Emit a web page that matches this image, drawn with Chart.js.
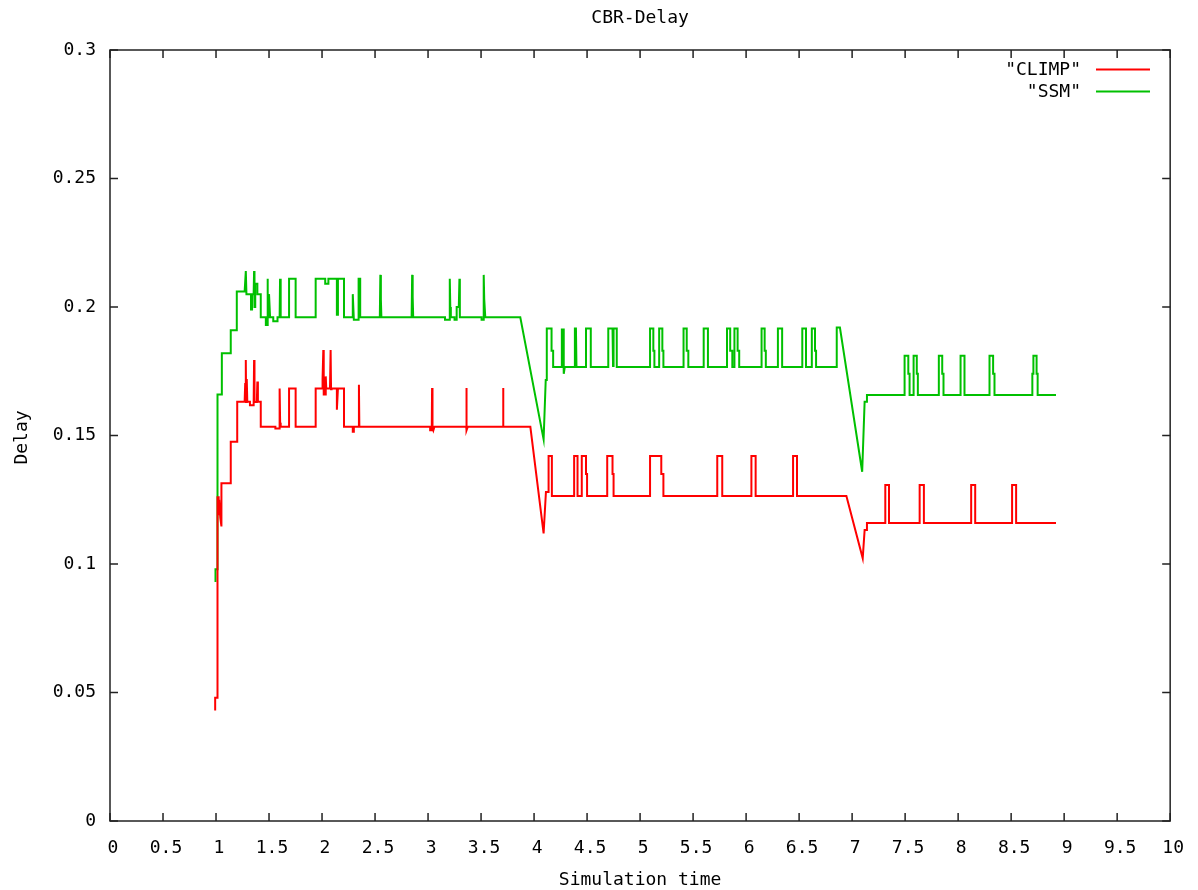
<!DOCTYPE html>
<html>
<head>
<meta charset="utf-8">
<title>CBR-Delay</title>
<script src="https://cdn.jsdelivr.net/npm/chart.js@4"></script>
<style>
  html, body { margin: 0; padding: 0; background: #fff; }
  canvas { display: block; }
</style>
</head>
<body>
<canvas id="delayChart" width="1198" height="890"></canvas>
<script>
// ------------------------------------
// data
// ------------------------------------
const chartTitle = "CBR-Delay";
const xTitle = "Simulation time";
const yTitle = "Delay";
const seriesNames = ['"CLIMP"', '"SSM"'];
const seriesColors = ["#ff0000", "#00c000"];

const xTicks = [0, 0.5, 1, 1.5, 2, 2.5, 3, 3.5, 4, 4.5, 5, 5.5, 6, 6.5, 7, 7.5, 8, 8.5, 9, 9.5, 10];
const yTicks = [0, 0.05, 0.1, 0.15, 0.2, 0.25, 0.3];

// CLIMP
const climpTime = [
  0.992, 0.992, 1.014, 1.014, 1.025, 1.025, 1.03, 1.04, 1.05, 1.051, 1.139, 1.139, 1.2, 1.2,
  1.27, 1.275, 1.281, 1.284, 1.29, 1.295, 1.32, 1.32, 1.355, 1.359, 1.363, 1.385, 1.39, 1.395, 1.422, 1.422,
  1.56, 1.56, 1.595, 1.6, 1.605, 1.61,
  1.689, 1.689, 1.751, 1.751,
  1.94, 1.94, 2.0, 2.005, 2.012, 2.016, 2.03, 2.035, 2.04, 2.075, 2.081, 2.085, 2.09,
  2.14, 2.14, 2.15, 2.207, 2.207, 2.29, 2.29, 2.3, 2.3, 2.34, 2.348, 2.352,
  3.02, 3.02, 3.035, 3.038, 3.042, 3.05, 3.06,
  3.36, 3.36, 3.362, 3.367, 3.375,
  3.707, 3.707, 3.712,
  3.965, 4.09, 4.112, 4.132, 4.137, 4.168, 4.168,
  4.378, 4.378, 4.41, 4.41, 4.45, 4.45, 4.49, 4.49, 4.5, 4.5,
  4.69, 4.69, 4.74, 4.74, 4.75, 4.75,
  5.094, 5.094, 5.2, 5.2, 5.22, 5.22,
  5.728, 5.728, 5.775, 5.775,
  6.05, 6.05, 6.09, 6.09,
  6.443, 6.443, 6.48, 6.48,
  6.946, 7.1, 7.118, 7.14, 7.14,
  7.313, 7.313, 7.348, 7.348,
  7.637, 7.637, 7.677, 7.677,
  8.123, 8.123, 8.161, 8.161,
  8.509, 8.509, 8.547, 8.547,
  8.923,
];
const climpDelay = [
  0.043, 0.048, 0.048, 0.126, 0.126, 0.119, 0.125, 0.118, 0.115, 0.1314, 0.1314, 0.1476, 0.1476, 0.1631,
  0.1631, 0.17, 0.1794, 0.163, 0.172, 0.1631, 0.1631, 0.1618, 0.1618, 0.1794, 0.163, 0.163, 0.171, 0.1631, 0.1631, 0.1534,
  0.1534, 0.1527, 0.1527, 0.1683, 0.155, 0.1534,
  0.1534, 0.1683, 0.1683, 0.1534,
  0.1534, 0.1683, 0.1683, 0.172, 0.1833, 0.166, 0.166, 0.173, 0.1683, 0.1683, 0.1833, 0.168, 0.1683,
  0.1683, 0.16, 0.1683, 0.1683, 0.1534, 0.1534, 0.1515, 0.1515, 0.1534, 0.1534, 0.1697, 0.1534,
  0.1534, 0.152, 0.152, 0.1685, 0.153, 0.152, 0.1534,
  0.1534, 0.152, 0.1685, 0.152, 0.1534,
  0.1534, 0.1685, 0.1534,
  0.1534, 0.1119, 0.128, 0.128, 0.142, 0.142, 0.1265,
  0.1265, 0.142, 0.142, 0.1265, 0.1265, 0.142, 0.142, 0.135, 0.135, 0.1265,
  0.1265, 0.142, 0.142, 0.135, 0.135, 0.1265,
  0.1265, 0.142, 0.142, 0.135, 0.135, 0.1265,
  0.1265, 0.142, 0.142, 0.1265,
  0.1265, 0.142, 0.142, 0.1265,
  0.1265, 0.142, 0.142, 0.1265,
  0.1265, 0.1022, 0.1132, 0.1132, 0.116,
  0.116, 0.1307, 0.1307, 0.116,
  0.116, 0.1307, 0.1307, 0.116,
  0.116, 0.1307, 0.1307, 0.116,
  0.116, 0.1307, 0.1307, 0.116,
  0.116,
];

// SSM
const ssmTime = [
  0.995, 0.995, 1.014, 1.014, 1.055, 1.055, 1.139, 1.139, 1.196, 1.196,
  1.27, 1.281, 1.287, 1.33, 1.33, 1.34, 1.34, 1.355, 1.359, 1.363, 1.37, 1.37, 1.39, 1.39, 1.422, 1.422,
  1.47, 1.47, 1.485, 1.485, 1.49, 1.5, 1.5, 1.51,
  1.54, 1.54, 1.58, 1.58, 1.6, 1.604, 1.61,
  1.689, 1.689, 1.751, 1.751,
  1.94, 1.94, 2.03, 2.03, 2.06, 2.06, 2.14, 2.14, 2.15, 2.15, 2.207, 2.207,
  2.29, 2.29, 2.3, 2.345, 2.345, 2.36, 2.36,
  2.545, 2.55, 2.555, 2.56,
  2.845, 2.85, 2.855, 2.86,
  3.16, 3.16, 3.2, 3.205, 3.21, 3.215, 3.25, 3.25, 3.27, 3.27, 3.29, 3.296, 3.3,
  3.505, 3.505, 3.52, 3.525, 3.53, 3.54,
  3.87, 4.09, 4.11, 4.12, 4.12, 4.165, 4.165, 4.18, 4.18,
  4.255, 4.262, 4.268, 4.275, 4.28, 4.29, 4.38, 4.385, 4.395, 4.4,
  4.49, 4.49, 4.535, 4.535,
  4.7, 4.7, 4.74, 4.745, 4.75, 4.78, 4.78,
  5.094, 5.094, 5.125, 5.125, 5.135, 5.135, 5.18, 5.18, 5.21, 5.21, 5.22, 5.22,
  5.41, 5.41, 5.44, 5.44, 5.455, 5.455,
  5.6, 5.6, 5.64, 5.64,
  5.82, 5.82, 5.85, 5.85, 5.87, 5.87, 5.89, 5.89, 5.92, 5.92, 5.935, 5.935,
  6.146, 6.146, 6.175, 6.175, 6.186, 6.186,
  6.3, 6.3, 6.34, 6.34,
  6.53, 6.53, 6.565, 6.565,
  6.62, 6.62, 6.65, 6.65, 6.66, 6.66,
  6.855, 6.855, 6.885, 7.095, 7.118, 7.14, 7.14,
  7.495, 7.495, 7.53, 7.53, 7.542, 7.542, 7.58, 7.58, 7.61, 7.61, 7.62, 7.62,
  7.818, 7.818, 7.85, 7.85, 7.862, 7.862,
  8.023, 8.023, 8.06, 8.06,
  8.296, 8.296, 8.33, 8.33, 8.343, 8.343,
  8.7, 8.7, 8.71, 8.71, 8.74, 8.74, 8.75, 8.75,
  8.923,
];
const ssmDelay = [
  0.093, 0.098, 0.098, 0.166, 0.166, 0.182, 0.182, 0.191, 0.191, 0.206,
  0.206, 0.214, 0.205, 0.205, 0.199, 0.199, 0.205, 0.205, 0.214, 0.2, 0.2, 0.209, 0.209, 0.205, 0.205, 0.196,
  0.196, 0.193, 0.193, 0.211, 0.196, 0.196, 0.205, 0.196,
  0.196, 0.1945, 0.1945, 0.196, 0.196, 0.211, 0.196,
  0.196, 0.211, 0.211, 0.196,
  0.196, 0.211, 0.211, 0.209, 0.209, 0.211, 0.211, 0.197, 0.197, 0.211, 0.211, 0.196,
  0.196, 0.205, 0.195, 0.195, 0.211, 0.211, 0.196,
  0.196, 0.2125, 0.203, 0.196,
  0.196, 0.2125, 0.204, 0.196,
  0.196, 0.195, 0.195, 0.211, 0.2, 0.196, 0.196, 0.195, 0.195, 0.2, 0.2, 0.211, 0.196,
  0.196, 0.195, 0.195, 0.2125, 0.203, 0.196,
  0.196, 0.1485, 0.1716, 0.1716, 0.1916, 0.1916, 0.183, 0.183, 0.1767,
  0.1767, 0.1916, 0.1767, 0.1916, 0.174, 0.1767, 0.1767, 0.1916, 0.1916, 0.1767,
  0.1767, 0.1916, 0.1916, 0.1767,
  0.1767, 0.1916, 0.1916, 0.177, 0.1916, 0.1916, 0.1767,
  0.1767, 0.1916, 0.1916, 0.183, 0.183, 0.1767, 0.1767, 0.1916, 0.1916, 0.183, 0.183, 0.1767,
  0.1767, 0.1916, 0.1916, 0.183, 0.183, 0.1767,
  0.1767, 0.1916, 0.1916, 0.1767,
  0.1767, 0.1916, 0.1916, 0.183, 0.183, 0.1767, 0.1767, 0.1916, 0.1916, 0.183, 0.183, 0.1767,
  0.1767, 0.1916, 0.1916, 0.183, 0.183, 0.1767,
  0.1767, 0.1916, 0.1916, 0.1767,
  0.1767, 0.1916, 0.1916, 0.1767,
  0.1767, 0.1916, 0.1916, 0.183, 0.183, 0.1767,
  0.1767, 0.192, 0.192, 0.1359, 0.1631, 0.1631, 0.1658,
  0.1658, 0.181, 0.181, 0.174, 0.174, 0.1658, 0.1658, 0.181, 0.181, 0.174, 0.174, 0.1658,
  0.1658, 0.181, 0.181, 0.174, 0.174, 0.1658,
  0.1658, 0.181, 0.181, 0.1658,
  0.1658, 0.181, 0.181, 0.174, 0.174, 0.1658,
  0.1658, 0.174, 0.174, 0.181, 0.181, 0.174, 0.174, 0.1658,
  0.1658,
];

// ------------------------------------
// gnuplot look: frame, inward ticks, legend, titles
// ------------------------------------
const FONT = "18px 'DejaVu Sans Mono', monospace";

const gnuplotFrame = {
  id: "gnuplotFrame",
  afterDraw(chart) {
    const { ctx, chartArea: a } = chart;
    const xs = chart.scales.x;
    const ys = chart.scales.y;
    ctx.save();

    // border + ticks
    ctx.strokeStyle = "#222";
    ctx.lineWidth = 1.5;
    ctx.strokeRect(a.left, a.top, a.right - a.left, a.bottom - a.top);
    ctx.beginPath();
    xs.ticks.forEach((t) => {
      const px = xs.getPixelForValue(t.value);
      ctx.moveTo(px, a.bottom);
      ctx.lineTo(px, a.bottom - 8);
      ctx.moveTo(px, a.top);
      ctx.lineTo(px, a.top + 8);
    });
    ys.ticks.forEach((t) => {
      const py = ys.getPixelForValue(t.value);
      ctx.moveTo(a.left, py);
      ctx.lineTo(a.left + 8, py);
      ctx.moveTo(a.right, py);
      ctx.lineTo(a.right - 8, py);
    });
    ctx.stroke();

    // texts
    ctx.fillStyle = "#000";
    ctx.font = FONT;
    ctx.textBaseline = "middle";
    ctx.textAlign = "center";
    const midX = (a.left + a.right) / 2;
    ctx.fillText(chartTitle, midX, 18);
    ctx.fillText(xTitle, midX, 880);

    ctx.save();
    ctx.translate(22, (a.top + a.bottom) / 2 + 2);
    ctx.rotate(-Math.PI / 2);
    ctx.fillText(yTitle, 0, 0);
    ctx.restore();

    // legend (text then sample line, like gnuplot)
    chart.data.datasets.forEach((ds, i) => {
      const ly = 70 + i * 22;
      ctx.textAlign = "right";
      ctx.fillText(ds.label, 1081, ly);
      ctx.strokeStyle = ds.borderColor;
      ctx.lineWidth = 2;
      ctx.beginPath();
      ctx.moveTo(1096, ly - 0.5);
      ctx.lineTo(1150, ly - 0.5);
      ctx.stroke();
    });

    ctx.restore();
  },
};

function toPoints(xsArr, ysArr) {
  return xsArr.map((x, i) => ({ x, y: ysArr[i] }));
}

const ctx = document.getElementById("delayChart");
new Chart(ctx, {
  type: "line",
  data: {
    datasets: [
      {
        label: seriesNames[0],
        data: toPoints(climpTime, climpDelay),
        borderColor: seriesColors[0],
        borderWidth: 2,
        pointRadius: 0,
        tension: 0,
      },
      {
        label: seriesNames[1],
        data: toPoints(ssmTime, ssmDelay),
        borderColor: seriesColors[1],
        borderWidth: 2,
        pointRadius: 0,
        tension: 0,
      },
    ],
  },
  options: {
    responsive: false,
    animation: false,
    devicePixelRatio: 1,
    layout: { padding: { left: 0, right: 27, top: 50, bottom: 0 } },
    plugins: {
      legend: { display: false },
      title: { display: false },
      tooltip: { enabled: false },
    },
    scales: {
      x: {
        type: "linear",
        min: 0,
        max: 10,
        afterBuildTicks: (s) => { s.ticks = xTicks.map((v) => ({ value: v })); },
        afterFit: (s) => { s.height = 69; },
        grid: { display: false, drawTicks: false },
        border: { display: false },
        ticks: {
          font: { family: "'DejaVu Sans Mono', monospace", size: 18 },
          color: "#000",
          padding: 17,
          labelOffset: 3,
          maxRotation: 0,
          autoSkip: false,
          callback: (v) => String(v),
        },
      },
      y: {
        type: "linear",
        min: 0,
        max: 0.3,
        afterBuildTicks: (s) => { s.ticks = yTicks.map((v) => ({ value: v })); },
        afterFit: (s) => { s.width = 110; },
        grid: { display: false, drawTicks: false },
        border: { display: false },
        ticks: {
          font: { family: "'DejaVu Sans Mono', monospace", size: 18 },
          color: "#000",
          padding: 14,
          autoSkip: false,
          callback: (v) => String(v),
        },
      },
    },
  },
  plugins: [gnuplotFrame],
});
</script>
</body>
</html>
